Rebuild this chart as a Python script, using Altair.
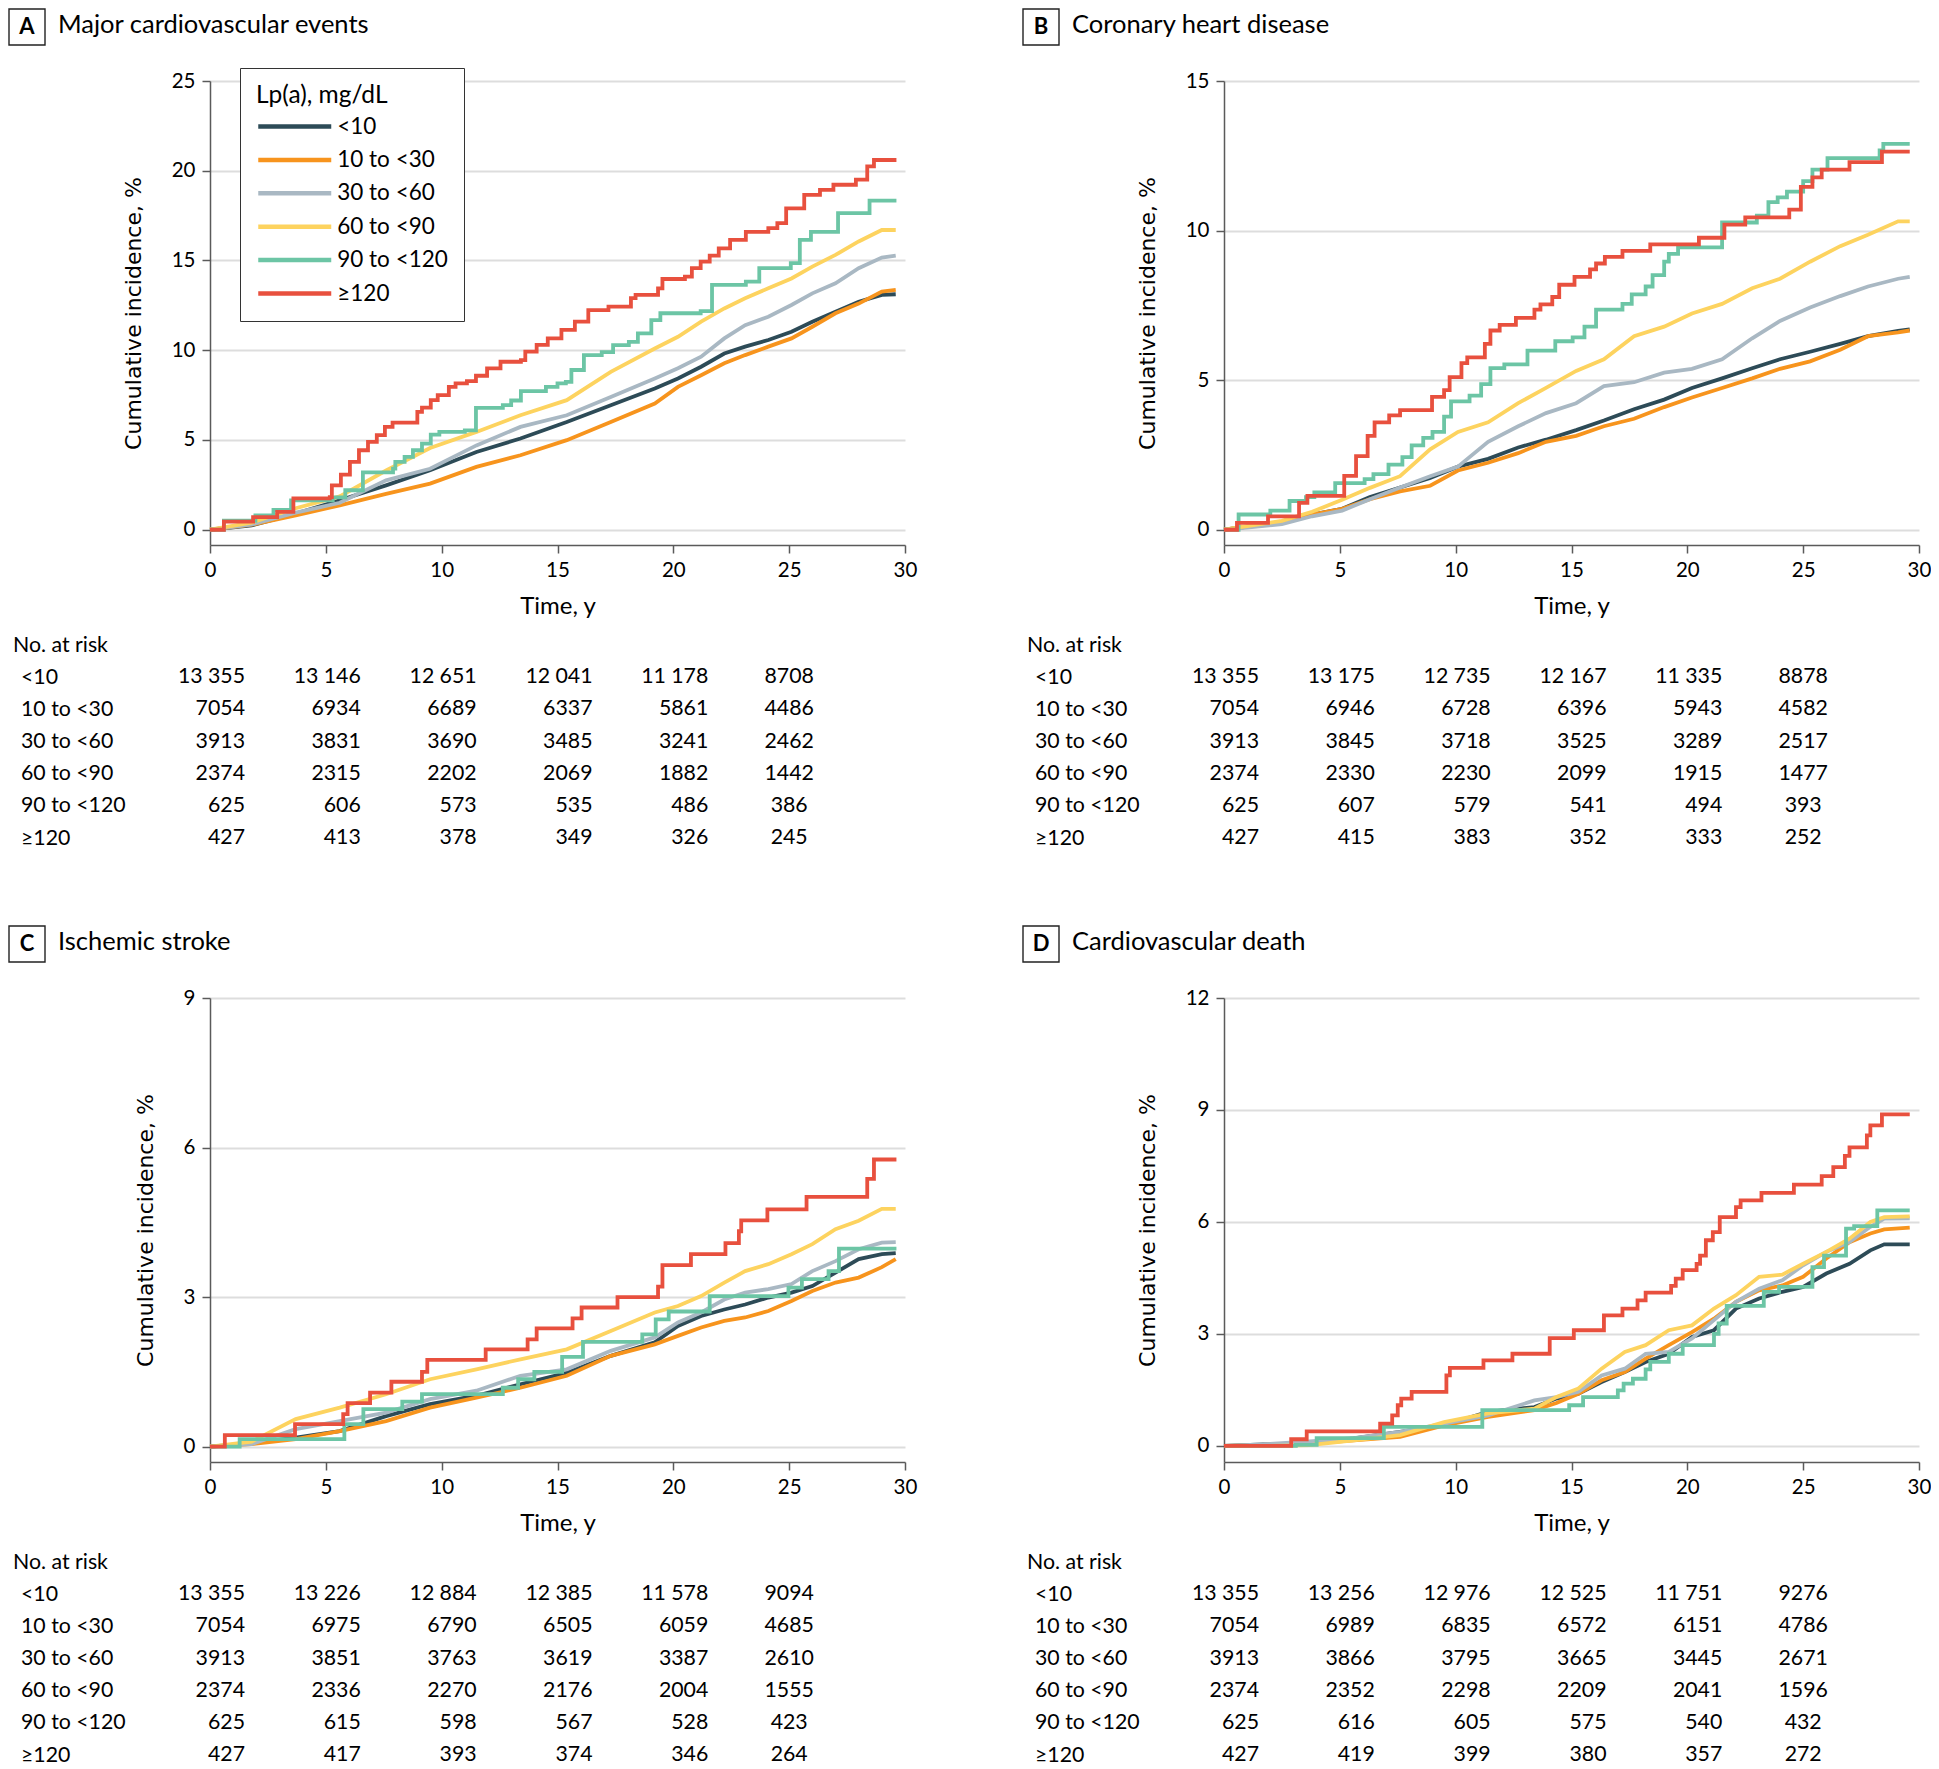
import altair as alt
import pandas as pd

FONT = "Lato"
YFONT = "DejaVu Sans"

GROUPS = ["<10", "10 to <30", "30 to <60", "60 to <90", "90 to <120", "≥120"]
COLORS = ["#2d4b57", "#f7941d", "#a9b8c3", "#fdd35f", "#6cc5a5", "#e8503e"]
SMOOTH = GROUPS[:4]
RISK_TIMES = [0, 5, 10, 15, 20, 25]
TABLE_ROWS = ["No. at risk"] + GROUPS
X_TICKS = [0, 5, 10, 15, 20, 25, 30]

# ---------------- Panel A: Major cardiovascular events ----------------
A_T = [0, 1.8, 3.7, 5.6, 7.6, 9.5, 11.5, 13.4, 15.4, 17.3, 19.2, 20.2, 21.2, 22.2, 23.1, 24.1, 25.1, 26.0, 27.0, 28.0, 29.0, 29.6]
A_LT10 = [0, 0.24, 0.9, 1.64, 2.47, 3.31, 4.33, 5.08, 6.0, 6.94, 7.87, 8.43, 9.08, 9.82, 10.2, 10.57, 11.03, 11.59, 12.15, 12.7, 13.08, 13.12]
A_10 = [0, 0.28, 0.8, 1.36, 2.0, 2.57, 3.5, 4.15, 4.99, 6.0, 7.03, 7.96, 8.61, 9.27, 9.73, 10.2, 10.66, 11.31, 12.06, 12.6, 13.27, 13.36]
A_30 = [0, 0.3, 0.95, 1.5, 2.75, 3.4, 4.7, 5.73, 6.38, 7.4, 8.43, 9.0, 9.64, 10.66, 11.4, 11.87, 12.52, 13.17, 13.73, 14.57, 15.16, 15.27]
A_60 = [0, 0.4, 1.2, 1.86, 3.3, 4.55, 5.45, 6.38, 7.22, 8.8, 10.1, 10.75, 11.59, 12.33, 12.9, 13.45, 14.0, 14.66, 15.31, 16.06, 16.7, 16.7]
A_90_T = [0, 0.6, 1.96, 2.74, 3.5, 5.3, 5.84, 6.6, 7.9, 8.0, 8.4, 8.76, 9.15, 9.53, 9.9, 11.0, 11.48, 12.64, 13.0, 13.42, 14.5, 15.0, 15.36, 15.6, 16.14, 16.91, 17.4, 18.08, 18.47, 19.05, 19.44, 21.18, 21.67, 23.13, 23.71, 25.07, 25.46, 25.94, 27.11, 28.47, 29.63]
A_90_Y = [0, 0.5, 0.8, 1.1, 1.64, 1.8, 2.2, 3.2, 3.4, 3.78, 4.06, 4.43, 4.8, 5.3, 5.45, 5.54, 6.79, 6.94, 7.2, 7.72, 7.96, 8.15, 8.24, 8.9, 9.73, 9.9, 10.29, 10.47, 10.94, 11.68, 12.06, 12.18, 13.64, 13.82, 14.57, 14.85, 16.15, 16.6, 17.64, 18.34, 18.34]
A_120_T = [0, 0.6, 1.86, 2.9, 3.6, 5.17, 5.26, 5.65, 6.04, 6.43, 6.82, 7.2, 7.55, 7.88, 8.95, 9.15, 9.53, 9.83, 10.31, 10.6, 11.09, 11.48, 11.96, 12.54, 13.42, 13.61, 14.1, 14.58, 15.17, 15.75, 16.33, 17.2, 18.17, 18.37, 19.34, 19.53, 20.5, 20.8, 21.18, 21.57, 21.96, 22.45, 23.13, 24.1, 24.49, 24.87, 25.65, 26.33, 26.91, 27.88, 28.37, 28.66, 29.63]
A_120_Y = [0, 0.45, 0.7, 1.0, 1.75, 1.82, 2.47, 3.07, 3.78, 4.43, 4.9, 5.27, 5.73, 5.97, 6.57, 6.8, 7.22, 7.5, 7.96, 8.15, 8.28, 8.58, 8.99, 9.36, 9.45, 9.92, 10.3, 10.66, 11.13, 11.6, 12.24, 12.43, 12.9, 13.08, 13.45, 13.97, 14.1, 14.57, 14.94, 15.27, 15.68, 16.15, 16.6, 16.8, 17.08, 17.9, 18.66, 18.94, 19.22, 19.5, 20.24, 20.6, 20.6]
A_RISK = [
    [13355, 13146, 12651, 12041, 11178, 8708],
    [7054, 6934, 6689, 6337, 5861, 4486],
    [3913, 3831, 3690, 3485, 3241, 2462],
    [2374, 2315, 2202, 2069, 1882, 1442],
    [625, 606, 573, 535, 486, 386],
    [427, 413, 378, 349, 326, 245],
]

# ---------------- Panel B: Coronary heart disease ----------------
B_T = [0, 2.5, 3.8, 5.1, 6.3, 7.6, 8.9, 10.1, 11.4, 12.7, 13.9, 15.2, 16.4, 17.7, 19.0, 20.2, 21.5, 22.8, 24.0, 25.3, 26.6, 27.8, 29.1, 29.6]
B_LT10 = [0, 0.26, 0.51, 0.7, 1.09, 1.41, 1.73, 2.11, 2.37, 2.75, 3.01, 3.33, 3.65, 4.03, 4.35, 4.74, 5.06, 5.4, 5.7, 5.95, 6.21, 6.47, 6.65, 6.7]
B_10 = [0, 0.26, 0.51, 0.7, 1.02, 1.28, 1.47, 1.98, 2.24, 2.56, 2.94, 3.14, 3.46, 3.71, 4.1, 4.42, 4.74, 5.06, 5.38, 5.63, 6.02, 6.47, 6.6, 6.66]
B_30 = [0, 0.19, 0.45, 0.64, 1.02, 1.41, 1.79, 2.11, 2.94, 3.46, 3.9, 4.23, 4.8, 4.93, 5.25, 5.38, 5.7, 6.4, 6.98, 7.43, 7.81, 8.13, 8.39, 8.45]
B_60 = [0, 0.3, 0.6, 1.0, 1.4, 1.79, 2.69, 3.27, 3.59, 4.23, 4.74, 5.31, 5.7, 6.47, 6.79, 7.23, 7.55, 8.07, 8.39, 8.96, 9.48, 9.86, 10.31, 10.31]
B_90_T = [0, 0.63, 2.0, 2.83, 3.54, 3.9, 4.8, 6.07, 6.45, 7.1, 7.7, 8.1, 8.6, 9.0, 9.5, 9.8, 10.6, 11.1, 11.5, 12.1, 13.1, 14.3, 15.05, 15.56, 16.06, 17.2, 17.6, 18.2, 18.5, 19.0, 19.2, 19.6, 21.5, 23.0, 23.5, 23.9, 24.3, 25.0, 25.4, 26.05, 28.3, 28.46, 29.6]
B_90_Y = [0, 0.51, 0.64, 0.96, 1.09, 1.25, 1.56, 1.69, 1.86, 2.18, 2.43, 2.82, 3.07, 3.27, 3.78, 4.29, 4.48, 4.87, 5.4, 5.53, 5.99, 6.3, 6.43, 6.79, 7.36, 7.55, 7.87, 8.13, 8.51, 8.96, 9.22, 9.44, 10.27, 10.5, 10.95, 11.11, 11.3, 11.65, 12.04, 12.42, 12.68, 12.9, 12.9]
B_120_T = [0, 0.56, 1.9, 3.24, 3.6, 5.19, 5.7, 6.2, 6.5, 7.13, 7.6, 8.98, 9.5, 9.74, 10.25, 10.5, 11.26, 11.5, 11.9, 12.6, 13.4, 13.66, 14.17, 14.47, 15.13, 15.8, 16.06, 16.44, 17.2, 18.4, 20.5, 21.6, 22.5, 24.4, 24.9, 25.4, 25.8, 27.0, 28.4, 29.6]
B_120_Y = [0, 0.23, 0.45, 0.9, 1.13, 1.8, 2.46, 3.14, 3.59, 3.82, 4.0, 4.44, 4.67, 5.1, 5.57, 5.76, 6.21, 6.66, 6.85, 7.08, 7.36, 7.53, 7.78, 8.19, 8.45, 8.7, 8.9, 9.12, 9.32, 9.54, 9.76, 10.2, 10.44, 10.7, 11.46, 11.78, 12.04, 12.29, 12.64, 12.64]
B_RISK = [
    [13355, 13175, 12735, 12167, 11335, 8878],
    [7054, 6946, 6728, 6396, 5943, 4582],
    [3913, 3845, 3718, 3525, 3289, 2517],
    [2374, 2330, 2230, 2099, 1915, 1477],
    [625, 607, 579, 541, 494, 393],
    [427, 415, 383, 352, 333, 252],
]

# ---------------- Panel C: Ischemic stroke ----------------
C_T = [0, 1.8, 3.7, 5.6, 7.6, 9.5, 11.5, 13.4, 15.4, 17.3, 19.2, 20.2, 21.2, 22.2, 23.1, 24.1, 25.1, 26.0, 27.0, 28.0, 29.0, 29.6]
C_LT10 = [0, 0.07, 0.18, 0.31, 0.61, 0.85, 1.02, 1.25, 1.48, 1.82, 2.09, 2.42, 2.62, 2.75, 2.85, 2.99, 3.09, 3.22, 3.49, 3.76, 3.86, 3.88]
C_10 = [0, 0.05, 0.15, 0.31, 0.51, 0.78, 0.98, 1.18, 1.42, 1.82, 2.05, 2.22, 2.39, 2.52, 2.59, 2.72, 2.92, 3.12, 3.29, 3.39, 3.6, 3.76]
C_30 = [0, 0.05, 0.35, 0.51, 0.68, 0.95, 1.12, 1.42, 1.55, 1.92, 2.19, 2.49, 2.69, 2.95, 3.09, 3.16, 3.26, 3.52, 3.72, 3.96, 4.09, 4.1]
C_60 = [0, 0.1, 0.55, 0.78, 1.05, 1.35, 1.55, 1.75, 1.95, 2.32, 2.69, 2.82, 3.02, 3.29, 3.52, 3.66, 3.86, 4.06, 4.36, 4.53, 4.77, 4.77]
C_90_T = [0, 1.28, 5.8, 6.62, 8.3, 9.15, 12.64, 13.3, 14.0, 15.2, 16.1, 18.66, 19.24, 19.8, 21.57, 24.97, 25.55, 26.7, 27.15, 29.63]
C_90_Y = [0, 0.15, 0.45, 0.75, 0.9, 1.05, 1.18, 1.35, 1.5, 1.8, 2.1, 2.25, 2.55, 2.71, 3.02, 3.19, 3.36, 3.52, 3.97, 3.97]
C_120_T = [0, 0.64, 3.67, 5.75, 5.94, 6.91, 7.83, 9.15, 9.38, 11.9, 13.71, 14.1, 15.65, 16.04, 17.59, 19.34, 19.53, 20.76, 22.25, 22.83, 22.93, 24.06, 25.75, 28.37, 28.66, 29.63]
C_120_Y = [0, 0.23, 0.45, 0.65, 0.87, 1.08, 1.3, 1.5, 1.74, 1.95, 2.15, 2.37, 2.57, 2.79, 3.0, 3.21, 3.64, 3.86, 4.08, 4.32, 4.54, 4.76, 5.01, 5.37, 5.76, 5.76]
C_RISK = [
    [13355, 13226, 12884, 12385, 11578, 9094],
    [7054, 6975, 6790, 6505, 6059, 4685],
    [3913, 3851, 3763, 3619, 3387, 2610],
    [2374, 2336, 2270, 2176, 2004, 1555],
    [625, 615, 598, 567, 528, 423],
    [427, 417, 393, 374, 346, 264],
]

# ---------------- Panel D: Cardiovascular death ----------------
D_T = [0, 1.7, 3.7, 5.6, 7.6, 9.5, 11.4, 13.4, 14.35, 15.3, 16.3, 17.3, 18.2, 19.2, 20.2, 21.15, 22.1, 23.1, 24.1, 25.0, 26.0, 27.0, 27.9, 28.5, 29.6]
D_LT10 = [0, 0.04, 0.06, 0.2, 0.38, 0.55, 0.91, 1.04, 1.27, 1.4, 1.71, 1.98, 2.25, 2.47, 2.92, 3.1, 3.68, 3.95, 4.13, 4.26, 4.62, 4.88, 5.24, 5.4, 5.4]
D_10 = [0, 0.03, 0.06, 0.15, 0.24, 0.55, 0.78, 0.96, 1.15, 1.4, 1.76, 1.98, 2.34, 2.7, 3.05, 3.41, 3.86, 4.17, 4.3, 4.53, 5.02, 5.46, 5.69, 5.8, 5.85]
D_30 = [0, 0.04, 0.12, 0.21, 0.38, 0.6, 0.82, 1.22, 1.31, 1.45, 1.89, 2.07, 2.47, 2.52, 2.88, 3.37, 3.86, 4.21, 4.44, 4.84, 5.2, 5.46, 5.87, 6.09, 6.1]
D_60 = [0, 0, 0.02, 0.15, 0.29, 0.64, 0.87, 1.0, 1.31, 1.54, 2.07, 2.52, 2.7, 3.1, 3.23, 3.68, 4.04, 4.53, 4.59, 4.88, 5.2, 5.55, 6.0, 6.13, 6.15]
D_90_T = [0, 3.1, 4.0, 6.9, 11.15, 14.9, 15.5, 17.0, 17.25, 17.65, 18.2, 18.4, 19.2, 19.8, 21.15, 21.35, 21.7, 23.3, 23.96, 25.4, 25.9, 26.85, 27.2, 28.2, 29.6]
D_90_Y = [0, 0.03, 0.21, 0.51, 0.96, 1.09, 1.31, 1.49, 1.67, 1.8, 2.05, 2.25, 2.47, 2.7, 3.0, 3.28, 3.75, 4.13, 4.26, 4.79, 5.1, 5.82, 5.89, 6.31, 6.31]
D_120_T = [0, 2.9, 3.57, 6.74, 7.26, 7.5, 7.65, 8.1, 9.6, 9.75, 11.2, 12.45, 14.06, 15.1, 16.4, 17.2, 17.85, 18.2, 19.3, 19.5, 19.8, 20.4, 20.55, 20.8, 21.1, 21.4, 22.1, 22.3, 23.2, 24.6, 25.8, 26.3, 26.8, 27.0, 27.75, 27.9, 28.4, 29.6]
D_120_Y = [0, 0.18, 0.39, 0.6, 0.82, 1.09, 1.27, 1.45, 1.89, 2.09, 2.29, 2.47, 2.89, 3.1, 3.5, 3.68, 3.9, 4.11, 4.29, 4.48, 4.71, 4.88, 5.1, 5.51, 5.73, 6.13, 6.4, 6.58, 6.78, 7.0, 7.23, 7.47, 7.77, 8.0, 8.32, 8.59, 8.88, 8.88]
D_RISK = [
    [13355, 13256, 12976, 12525, 11751, 9276],
    [7054, 6989, 6835, 6572, 6151, 4786],
    [3913, 3866, 3795, 3665, 3445, 2671],
    [2374, 2352, 2298, 2209, 2041, 1596],
    [625, 616, 605, 575, 540, 432],
    [427, 419, 399, 380, 357, 272],
]

PLOT_W = 695
PLOT_H = 464
LINE_W = 3.8
AXIS_GREY = "#5a5a5a"
TICK_FS = 20.5
TABLE_FS = 21.3


def curve_frame(grid, smooth_values, green_t, green_y, red_t, red_y):
    rows = []
    for g, vals in zip(SMOOTH, smooth_values):
        for t, v in zip(grid, vals):
            rows.append({"g": g, "t": t, "v": v, "kind": "smooth"})
    for g, ts, vs in ((GROUPS[4], green_t, green_y), (GROUPS[5], red_t, red_y)):
        for t, v in zip(ts, vs):
            rows.append({"g": g, "t": t, "v": v, "kind": "step"})
    return pd.DataFrame(rows)


def plot_panel(letter, title, df, ymin, ymax, yticks, show_legend):
    if show_legend:
        legend = alt.Legend(
            title="Lp(a), mg/dL", orient="none", legendX=30, legendY=-13,
            direction="vertical", strokeColor="#333333", fillColor="white",
            padding=16, symbolType="M-2,0H2", symbolSize=1332, symbolStrokeWidth=4.5,
            symbolOffset=18.25, labelOffset=22,
            labelFont=FONT, titleFont=FONT, labelFontSize=22.5, titleFontSize=24.5,
            titleFontWeight="normal", labelColor="black", titleColor="black",
            labelLimit=400, rowPadding=1.4, titlePadding=-2.5,
        )
    else:
        legend = None
    color = alt.Color("g:N", scale=alt.Scale(domain=GROUPS, range=COLORS), legend=legend)
    x = alt.X(
        "t:Q",
        scale=alt.Scale(domain=[0, 30], nice=False, zero=False),
        axis=alt.Axis(
            values=X_TICKS, format="d", title="Time, y", titleFont=FONT, titleFontSize=24,
            titleFontWeight="normal", titleColor="black", titlePadding=14,
            labelFont=FONT, labelFontSize=TICK_FS, labelColor="black", labelPadding=7,
            labelFlush=False, tickSize=8, tickColor=AXIS_GREY, tickWidth=1.5,
            domainColor=AXIS_GREY, domainWidth=1.5, grid=False,
        ),
    )
    y = alt.Y(
        "v:Q",
        scale=alt.Scale(domain=[ymin, ymax], nice=False, zero=False),
        axis=alt.Axis(
            values=yticks, format="d", title="Cumulative incidence, %", titleFont=YFONT,
            titleFontSize=22, titleFontWeight="normal", titleColor="black", titlePadding=26,
            labelFont=FONT, labelFontSize=TICK_FS, labelColor="black", labelPadding=7,
            tickSize=8, tickColor=AXIS_GREY, tickWidth=1.5, domainColor=AXIS_GREY,
            domainWidth=1.5, grid=True, gridColor="#dddddd", gridWidth=2,
        ),
    )
    base = alt.Chart(df).encode(x=x, y=y, color=color)
    smooth = base.transform_filter("datum.kind == 'smooth'").mark_line(
        interpolate="linear", strokeWidth=LINE_W)
    step = base.transform_filter("datum.kind == 'step'").mark_line(
        interpolate="step-after", strokeWidth=LINE_W)
    hdr = alt.Chart(pd.DataFrame({"letter": [letter], "title": [title]}))
    box = hdr.mark_rect(fill="white", stroke="#222222", strokeWidth=1.4).encode(
        x=alt.value(-201), x2=alt.value(-165), y=alt.value(-72), y2=alt.value(-36))
    let = hdr.mark_text(font=FONT, fontSize=22, fontWeight="bold", align="center",
                        baseline="middle", color="black").encode(
        x=alt.value(-183), y=alt.value(-54), text="letter:N")
    ttl = hdr.mark_text(font=FONT, fontSize=25.5, align="left", baseline="middle",
                        color="black").encode(
        x=alt.value(-152), y=alt.value(-56), text="title:N")
    return alt.layer(smooth, step, box, let, ttl).properties(width=PLOT_W, height=PLOT_H)


NUM_EXPR = "datum.n >= 10000 ? replace(format(datum.n, ','), ',', '\u2005') : format(datum.n, 'd')"


def table_panel(counts, height):
    rows = [{"g": g, "t": t, "n": n}
            for g, ns in zip(GROUPS, counts) for t, n in zip(RISK_TIMES, ns)]
    df = pd.DataFrame(rows)
    y = alt.Y(
        "g:N",
        scale=alt.Scale(type="point", domain=TABLE_ROWS, range=[0, 193], padding=0),
        axis=alt.Axis(
            orient="left", domain=False, ticks=False, tickSize=0,
            labelPadding={"condition": {"test": "datum.value == 'No. at risk'", "value": 197.5},
                          "value": 189.5},
            labelAlign="left", labelBaseline="middle", labelFont=FONT, labelFontSize=TABLE_FS,
            labelColor="black", labelLimit=400, title=None, grid=False,
        ),
    )
    x = alt.X("t:Q", scale=alt.Scale(domain=[0, 30], nice=False, zero=False), axis=None)
    base = alt.Chart(df).transform_calculate(lab=NUM_EXPR).encode(x=x, y=y, text="lab:N")
    left = base.transform_filter("datum.t < 25").mark_text(
        align="right", dx=35, baseline="middle", font=FONT, fontSize=TABLE_FS, color="black")
    last = base.transform_filter("datum.t >= 25").mark_text(
        align="center", baseline="middle", font=FONT, fontSize=TABLE_FS, color="black")
    return alt.layer(left, last).properties(width=PLOT_W, height=height)


plotA = plot_panel("A", "Major cardiovascular events",
                   curve_frame(A_T, [A_LT10, A_10, A_30, A_60], A_90_T, A_90_Y, A_120_T, A_120_Y),
                   -0.85, 25, [0, 5, 10, 15, 20, 25], True)
plotB = plot_panel("B", "Coronary heart disease",
                   curve_frame(B_T, [B_LT10, B_10, B_30, B_60], B_90_T, B_90_Y, B_120_T, B_120_Y),
                   -0.51, 15, [0, 5, 10, 15], False)
plotC = plot_panel("C", "Ischemic stroke",
                   curve_frame(C_T, [C_LT10, C_10, C_30, C_60], C_90_T, C_90_Y, C_120_T, C_120_Y),
                   -0.31, 9, [0, 3, 6, 9], False)
plotD = plot_panel("D", "Cardiovascular death",
                   curve_frame(D_T, [D_LT10, D_10, D_30, D_60], D_90_T, D_90_Y, D_120_T, D_120_Y),
                   -0.43, 12, [0, 3, 6, 9, 12], False)

tableA = table_panel(A_RISK, 253)
tableB = table_panel(B_RISK, 253)
tableC = table_panel(C_RISK, 196)
tableD = table_panel(D_RISK, 196)

chart = alt.concat(
    plotA, plotB, tableA, tableB, plotC, plotD, tableC, tableD,
    columns=2, spacing={"row": 100, "column": 319}, bounds="flush",
).resolve_scale(color="independent").configure_view(strokeWidth=0).properties(padding=0)

chart.save("out.html", embed_options={"renderer": "svg", "actions": False})
